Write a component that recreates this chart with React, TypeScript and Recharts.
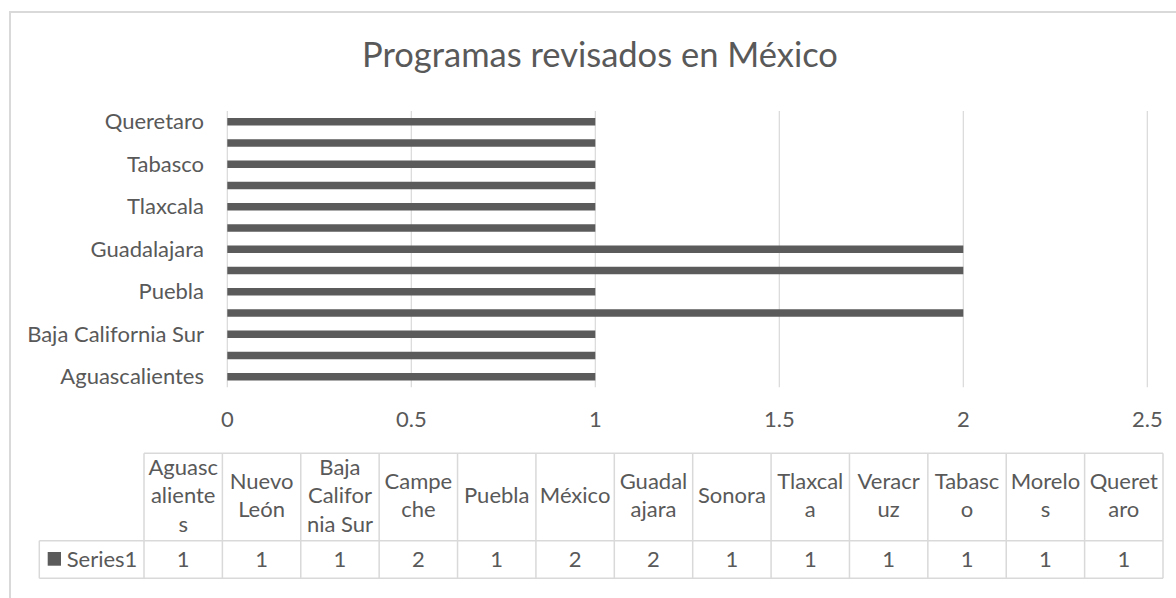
import React from "react";
import { BarChart, Bar, XAxis, YAxis, CartesianGrid } from "recharts";

const categories = [
  "Aguascalientes",
  "Nuevo León",
  "Baja California Sur",
  "Campeche",
  "Puebla",
  "México",
  "Guadalajara",
  "Sonora",
  "Tlaxcala",
  "Veracruz",
  "Tabasco",
  "Morelos",
  "Queretaro",
];
const series1 = [1, 1, 1, 2, 1, 2, 2, 1, 1, 1, 1, 1, 1];
const xTicks = [0, 0.5, 1, 1.5, 2, 2.5];
const headerLines = [
  ["Aguasc", "aliente", "s"],
  ["Nuevo", "León"],
  ["Baja", "Califor", "nia Sur"],
  ["Campe", "che"],
  ["Puebla"],
  ["México"],
  ["Guadal", "ajara"],
  ["Sonora"],
  ["Tlaxcal", "a"],
  ["Veracr", "uz"],
  ["Tabasc", "o"],
  ["Morelo", "s"],
  ["Queret", "aro"],
];
const seriesName = "Series1";
const title = "Programas revisados en México";

const data = categories.map((name, i) => ({ name, value: series1[i] }));

const FONT = "Lato, 'Open Sans', sans-serif";
const TEXT = "#595959";
const GRID = "#d9d9d9";
const BAR = "#5b5b5b";

const W = 1176;
const H = 598;

// table geometry
const tLeft = 144;
const tRight = 1163;
const colW = (tRight - tLeft) / categories.length;
const hTop = 453.3;
const hBot = 540.7;
const rBot = 578.3;
const sLeft = 39.3;
const lineH = 28.3;
const fs = 22;

function DataTable() {
  const hc = (hTop + hBot) / 2;
  return (
    <svg width={W} height={H} style={{ position: "absolute", left: 0, top: 0 }}>
      <text x={600} y={67} textAnchor="middle" fill={TEXT} fontSize={34.5} fontFamily={FONT}>
        {title}
      </text>
      <g stroke={GRID} strokeWidth={1.5} fill="none">
        <line x1={tLeft} x2={tRight} y1={hTop} y2={hTop} />
        <line x1={sLeft} x2={tRight} y1={hBot} y2={hBot} />
        <line x1={sLeft} x2={tRight} y1={rBot} y2={rBot} />
        <line x1={sLeft} x2={sLeft} y1={hBot} y2={rBot} />
        {categories.map((_, i) => (
          <line key={i} x1={tLeft + i * colW} x2={tLeft + i * colW} y1={hTop} y2={rBot} />
        ))}
        <line x1={tRight} x2={tRight} y1={hTop} y2={rBot} />
      </g>
      {headerLines.map((lines, i) => {
        const cx = tLeft + (i + 0.5) * colW;
        const n = lines.length;
        return lines.map((ln, j) => (
          <text
            key={i + "-" + j}
            x={cx}
            y={hc + 6.3 + (j - (n - 1) / 2) * lineH}
            textAnchor="middle"
            fill={TEXT}
            fontSize={fs}
            fontFamily={FONT}
          >
            {ln}
          </text>
        ));
      })}
      {series1.map((v, i) => (
        <text
          key={"v" + i}
          x={tLeft + (i + 0.5) * colW}
          y={566.7}
          textAnchor="middle"
          fill={TEXT}
          fontSize={fs}
          fontFamily={FONT}
        >
          {v}
        </text>
      ))}
      <rect x={47.7} y={552} width={13.3} height={13.7} fill={BAR} />
      <text x={66.7} y={566.7} fill={TEXT} fontSize={fs} fontFamily={FONT}>
        {seriesName}
      </text>
    </svg>
  );
}

export default function App() {
  return (
    <div
      style={{
        position: "absolute",
        left: 0,
        top: 0,
        width: W,
        height: H,
        overflow: "hidden",
        background: "#fff",
        fontFamily: FONT,
      }}
    >
      <div
        style={{
          position: "absolute",
          left: 9,
          top: 11,
          width: 1220,
          height: 700,
          border: `2px solid ${GRID}`,
          boxSizing: "border-box",
        }}
      />
      <div style={{ position: "absolute", left: 0, top: 0 }}>
        <BarChart
          width={W}
          height={440}
          layout="vertical"
          data={data}
          margin={{ top: 111, right: 28.7, bottom: 0, left: 0 }}
        >
          <CartesianGrid horizontal={false} stroke={GRID} strokeWidth={1.2} />
          <XAxis
            type="number"
            domain={[0, 2.5]}
            ticks={xTicks}
            axisLine={false}
            tickLine={false}
            tickSize={0}
            tickMargin={24.4}
            height={52.7}
            tick={{ fill: TEXT, fontSize: fs, fontFamily: FONT }}
          />
          <YAxis
            type="category"
            dataKey="name"
            reversed
            width={227.3}
            interval={1}
            axisLine={false}
            tickLine={false}
            tickSize={0}
            tickMargin={23.3}
            tick={{ fill: TEXT, fontSize: fs, fontFamily: FONT }}
          />
          <Bar dataKey="value" fill={BAR} barSize={7.5} isAnimationActive={false} />
        </BarChart>
      </div>
      <DataTable />
    </div>
  );
}
